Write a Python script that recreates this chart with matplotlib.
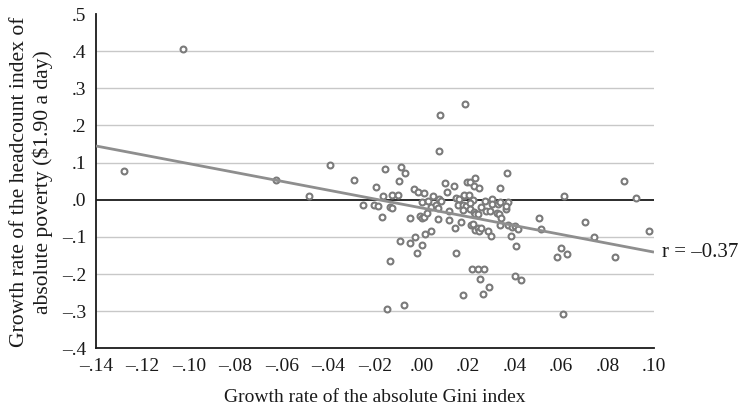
import numpy as np
import matplotlib
matplotlib.use("Agg")
import matplotlib.pyplot as plt

# Growth rate of absolute Gini index (x) and of headcount poverty (y)
gini_growth = [
    -0.1279, -0.1024, -0.0626, -0.0482, -0.0392, -0.0292, -0.0155, -0.0089, -0.0070, -0.0098,
    -0.0197, -0.0165, -0.0129, -0.0103, -0.0250, -0.0204, -0.0185, -0.0136, -0.0126, -0.0172,
    -0.0051, -0.0094, -0.0048, -0.0137, -0.0150, -0.0074, 0.0076, 0.0078, 0.0187, -0.0032,
    -0.0014, 0.0010, 0.0000, 0.0029, 0.0050, 0.0075, 0.0086, 0.0040, 0.0062, 0.0069,
    -0.0007, 0.0000, 0.0010, 0.0022, 0.0070, 0.0039, 0.0017, -0.0026, 0.0002, -0.0021,
    0.0101, 0.0138, 0.0194, 0.0210, 0.0230, 0.0226, 0.0249, 0.0368, 0.0336, 0.0111,
    0.0149, 0.0161, 0.0181, 0.0184, 0.0203, 0.0220, 0.0157, 0.0178, 0.0193, 0.0207,
    0.0271, 0.0304, 0.0304, 0.0328, 0.0337, 0.0374, 0.0255, 0.0276, 0.0296, 0.0324,
    0.0334, 0.0340, 0.0365, 0.0363, 0.0120, 0.0178, 0.0207, 0.0225, 0.0230, 0.0243,
    0.0119, 0.0169, 0.0146, 0.0213, 0.0223, 0.0228, 0.0243, 0.0249, 0.0257, 0.0287,
    0.0299, 0.0336, 0.0373, 0.0389, 0.0403, 0.0414, 0.0386, 0.0405, 0.0504, 0.0515,
    0.0150, 0.0218, 0.0245, 0.0269, 0.0250, 0.0292, 0.0263, 0.0179, 0.0402, 0.0428,
    0.0598, 0.0582, 0.0625, 0.0612, 0.0609, 0.0873, 0.0924, 0.0705, 0.0978, 0.0740,
    0.0832,
]
poverty_growth = [
    0.078, 0.407, 0.054, 0.011, 0.095, 0.053, 0.083, 0.089, 0.073, 0.052,
    0.034, 0.009, 0.012, 0.012, -0.013, -0.013, -0.016, -0.019, -0.022, -0.047,
    -0.049, -0.112, -0.117, -0.165, -0.295, -0.283, 0.131, 0.228, 0.257, 0.028,
    0.020, 0.019, -0.007, -0.003, 0.011, 0.003, -0.002, -0.018, -0.013, -0.021,
    -0.043, -0.050, -0.045, -0.036, -0.051, -0.083, -0.091, -0.100, -0.122, -0.142,
    0.044, 0.038, 0.047, 0.047, 0.060, 0.036, 0.032, 0.073, 0.031, 0.020,
    0.004, 0.002, 0.009, 0.013, 0.012, 0.000, -0.013, -0.013, -0.016, -0.008,
    -0.004, 0.001, -0.011, -0.010, -0.005, -0.005, -0.020, -0.031, -0.030, -0.036,
    -0.038, -0.050, -0.025, -0.016, -0.031, -0.027, -0.024, -0.032, -0.038, -0.038,
    -0.055, -0.059, -0.076, -0.067, -0.064, -0.080, -0.076, -0.085, -0.075, -0.084,
    -0.097, -0.067, -0.067, -0.074, -0.070, -0.079, -0.096, -0.124, -0.049, -0.079,
    -0.144, -0.186, -0.186, -0.186, -0.213, -0.235, -0.253, -0.257, -0.206, -0.216,
    -0.129, -0.155, -0.147, 0.009, -0.307, 0.052, 0.005, -0.059, -0.083, -0.099,
    -0.154,
]

# Fitted trend line (slope, intercept) and correlation label
trend_slope = -1.19
trend_intercept = -0.0217
r_label = "r = \u20130.37"

x_ticks = [-0.14, -0.12, -0.10, -0.08, -0.06, -0.04, -0.02, 0.00, 0.02, 0.04, 0.06, 0.08, 0.10]
x_tick_labels = ["\u2013.14", "\u2013.12", "\u2013.10", "\u2013.08", "\u2013.06", "\u2013.04", "\u2013.02",
                 ".00", ".02", ".04", ".06", ".08", ".10"]
y_ticks = [-0.4, -0.3, -0.2, -0.1, 0.0, 0.1, 0.2, 0.3, 0.4, 0.5]
y_tick_labels = ["\u2013.4", "\u2013.3", "\u2013.2", "\u2013.1", ".0", ".1", ".2", ".3", ".4", ".5"]
grid_levels = [-0.3, -0.2, -0.1, 0.1, 0.2, 0.3, 0.4]

plt.rcParams['font.family'] = ['Liberation Serif', 'DejaVu Serif']
FS = 14

fig = plt.figure(figsize=(7.42, 4.13), dpi=100)
ax = fig.add_axes([0.1294, 0.1562, 0.7520, 0.8099])

xmin, xmax = -0.14, 0.10
ax.set_xlim(xmin, xmax)
ax.set_ylim(-0.4, 0.5)

for g in grid_levels:
    ax.axhline(g, color='#c8c8c8', lw=1.0, zorder=1)
ax.axhline(0.0, color='#1a1a1a', lw=1.3, zorder=2)

ax.scatter(gini_growth, poverty_growth, s=18, facecolors='white', edgecolors='#7a7a7a',
           linewidths=1.5, zorder=3)

xl = np.array([xmin, xmax])
ax.plot(xl, trend_slope * xl + trend_intercept, color='#8e8e8e', lw=2.0, zorder=4,
        solid_capstyle='butt')

ax.text(xmax + 0.0035, trend_slope * xmax + trend_intercept, r_label, fontsize=15,
        va='center', ha='left', color='#1a1a1a', clip_on=False)

for s in ['top', 'right']:
    ax.spines[s].set_visible(False)
for s in ['left', 'bottom']:
    ax.spines[s].set_color('#1a1a1a')
    ax.spines[s].set_linewidth(1.3)

ax.set_xticks(x_ticks)
ax.set_xticklabels(x_tick_labels)
ax.set_yticks(y_ticks)
ax.set_yticklabels(y_tick_labels)
ax.tick_params(axis='both', length=0, labelsize=FS, colors='#1a1a1a')
ax.tick_params(axis='x', pad=7)
ax.tick_params(axis='y', pad=7)

ax.set_xlabel("Growth rate of the absolute Gini index", fontsize=FS, labelpad=10, color='#1a1a1a')
fig.text(31.5 / 742, 1 - 182 / 413,
         "Growth rate of the headcount index of\nabsolute poverty ($1.90 a day)",
         fontsize=15.6, rotation=90, ha='center', va='center', multialignment='center',
         linespacing=1.2, color='#1a1a1a')

fig.savefig("out.png", dpi=100)
